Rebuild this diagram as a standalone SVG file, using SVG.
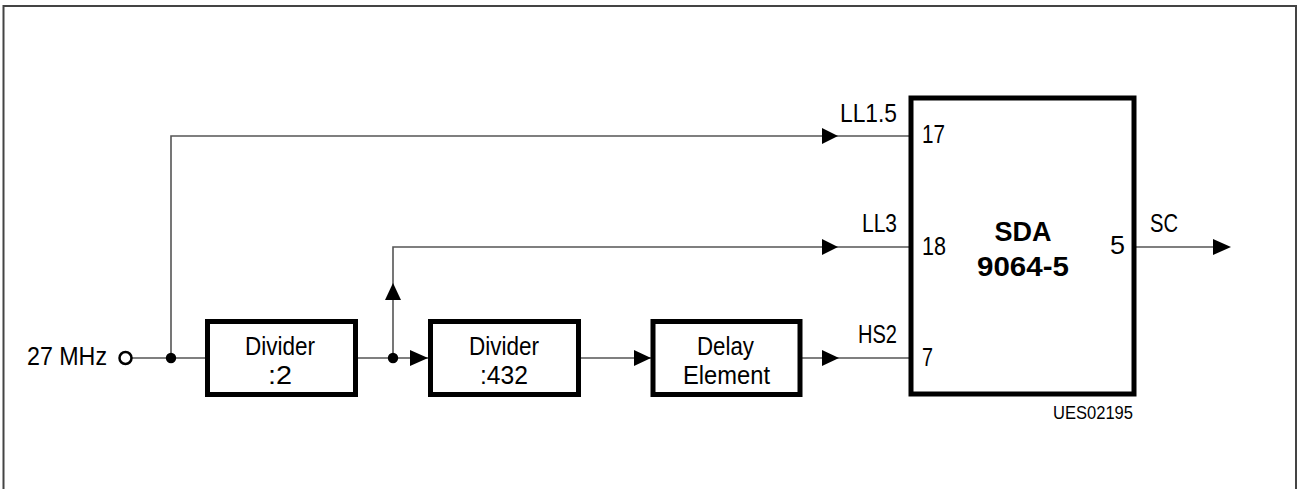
<svg xmlns="http://www.w3.org/2000/svg" width="1297" height="489" viewBox="0 0 1297 489">
<style>
.frame{fill:none;stroke:#444;stroke-width:2}
.box{fill:#fff;stroke:#000;stroke-width:5}
.w{fill:none;stroke:#555;stroke-width:1.6}
.ah{fill:#000}
.t{font-family:"Liberation Sans",Arial,sans-serif;font-size:26px;fill:#000}
.b{font-family:"Liberation Sans",Arial,sans-serif;font-size:27px;font-weight:bold;fill:#000}
.s{font-family:"Liberation Sans",Arial,sans-serif;font-size:18px;fill:#000}
</style>
<rect width="1297" height="489" fill="#fff"/>
<path class="frame" d="M3.5,500 V6 H1296 V500"/>
<g id="connectors">
<path class="w" d="M132,358 H207.5"/>
<path class="w" d="M171,358 V136 H911"/>
<path class="w" d="M355.5,358 H430.5"/>
<path class="w" d="M393,358 V247 H911"/>
<path class="w" d="M578.5,358 H653"/>
<path class="w" d="M800,358 H911"/>
<path class="w" d="M1134,247 H1214"/>
<circle cx="171" cy="358" r="5.2" class="ah"/>
<circle cx="393" cy="358" r="5.2" class="ah"/>
<polygon class="ah" points="410,350 428,358 410,366"/>
<polygon class="ah" points="634,350 651,358 634,366"/>
<polygon class="ah" points="822,350 839,358 822,366"/>
<polygon class="ah" points="822,128 838,136 822,144"/>
<polygon class="ah" points="822,239 838,247 822,255"/>
<polygon class="ah" points="1213,239 1231,247 1213,255"/>
<polygon class="ah" points="385,300 393,283 401,300"/>
</g>
<g id="input">
<circle cx="125.5" cy="358" r="6" fill="#fff" stroke="#000" stroke-width="2.5"/>
<text class="t" x="27" y="365" textLength="80" lengthAdjust="spacingAndGlyphs">27 MHz</text>
</g>
<g id="divider2">
<rect class="box" x="207.5" y="321.5" width="148" height="73"/>
<text class="t" x="245" y="355" textLength="70" lengthAdjust="spacingAndGlyphs">Divider</text>
<text class="t" x="268" y="384" textLength="24" lengthAdjust="spacingAndGlyphs">:2</text>
</g>
<g id="divider432">
<rect class="box" x="430.5" y="321.5" width="148" height="73"/>
<text class="t" x="469" y="355" textLength="70" lengthAdjust="spacingAndGlyphs">Divider</text>
<text class="t" x="480" y="384" textLength="48" lengthAdjust="spacingAndGlyphs">:432</text>
</g>
<g id="delay">
<rect class="box" x="653" y="321.5" width="147" height="73"/>
<text class="t" x="697" y="355" textLength="57" lengthAdjust="spacingAndGlyphs">Delay</text>
<text class="t" x="683" y="384" textLength="87" lengthAdjust="spacingAndGlyphs">Element</text>
</g>
<g id="sda">
<rect class="box" x="911" y="98" width="223" height="296" stroke-width="4.5"/>
<text class="b" x="1023" y="241" text-anchor="middle">SDA</text>
<text class="b" x="1023" y="276" text-anchor="middle" textLength="92" lengthAdjust="spacingAndGlyphs">9064-5</text>
<text class="t" x="922" y="143" textLength="23" lengthAdjust="spacingAndGlyphs">17</text>
<text class="t" x="922" y="255" textLength="24" lengthAdjust="spacingAndGlyphs">18</text>
<text class="t" x="922" y="366" textLength="11" lengthAdjust="spacingAndGlyphs">7</text>
<text class="t" x="1110" y="254" textLength="15" lengthAdjust="spacingAndGlyphs">5</text>
</g>
<g id="labels">
<text class="t" x="840" y="122" textLength="57" lengthAdjust="spacingAndGlyphs">LL1.5</text>
<text class="t" x="862" y="232" textLength="35" lengthAdjust="spacingAndGlyphs">LL3</text>
<text class="t" x="858" y="343" textLength="39" lengthAdjust="spacingAndGlyphs">HS2</text>
<text class="t" x="1150" y="232" textLength="28" lengthAdjust="spacingAndGlyphs">SC</text>
<text class="s" x="1053" y="419" textLength="80" lengthAdjust="spacingAndGlyphs">UES02195</text>
</g>
</svg>
